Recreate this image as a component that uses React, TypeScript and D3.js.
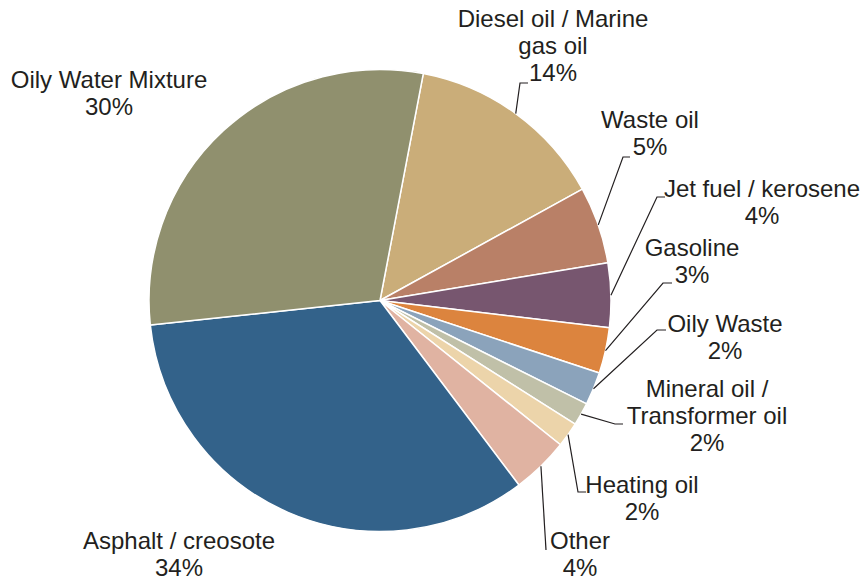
import React from 'react';
import { arc, pie } from 'd3';

// slice sizes (share of the circle, %)
const categories = [
  'Diesel oil / Marine gas oil',
  'Waste oil',
  'Jet fuel / kerosene',
  'Gasoline',
  'Oily Waste',
  'Mineral oil / Transformer oil',
  'Heating oil',
  'Other',
  'Asphalt / creosote',
  'Oily Water Mixture',
];
const values = [14.0, 5.4, 4.5, 3.2, 2.3, 1.6, 1.75, 4.0, 33.6, 29.7];
const pctLabels = ['14%', '5%', '4%', '3%', '2%', '2%', '2%', '4%', '34%', '30%'];
const colors = [
  '#caad79', '#b98067', '#77566f', '#dc843e', '#8ba3bb',
  '#c0c0a8', '#ecd4aa', '#e0b3a2', '#33628a', '#90906e',
];

// label text lines (name split as in the chart)
const nameLines = [
  ['Diesel oil / Marine', 'gas oil'],
  ['Waste oil'],
  ['Jet fuel / kerosene'],
  ['Gasoline'],
  ['Oily Waste'],
  ['Mineral oil /', 'Transformer oil'],
  ['Heating oil'],
  ['Other'],
  ['Asphalt / creosote'],
  ['Oily Water Mixture'],
];

// label layout: centre x, first baseline, leader elbow + end (null = no leader)
const labelPos: { x: number; y: number; elbow: number[][] | null }[] = [
  { x: 553, y: 27, elbow: [[520, 83], [528, 83]] },
  { x: 650, y: 128, elbow: [[623, 157], [630, 157]] },
  { x: 762, y: 197, elbow: [[657, 197], [665, 197]] },
  { x: 692, y: 256, elbow: [[663, 283], [672, 283]] },
  { x: 725, y: 332, elbow: [[657, 330], [666, 330]] },
  { x: 707, y: 397, elbow: [[615, 424], [623, 424]] },
  { x: 642, y: 493, elbow: [[578, 492], [586, 492]] },
  { x: 580, y: 549, elbow: [[546, 550]] },
  { x: 179, y: 549, elbow: null },
  { x: 109, y: 88, elbow: null },
];

const W = 863, H = 582;
const cx = 380, cy = 300.5, R = 231;
const lineH = 27;

export default function App() {
  const slices = pie<number>()
    .sort(null)
    .startAngle((10.8 * Math.PI) / 180)
    .endAngle((10.8 * Math.PI) / 180 + 2 * Math.PI)(values);
  const arcGen = arc<any>().innerRadius(0).outerRadius(R);

  return (
    <svg width={W} height={H} style={{ position: 'absolute', left: 0, top: 0 }}
      fontFamily="'Liberation Sans', Arial, sans-serif" fontSize={24}>
      <rect width={W} height={H} fill="#fff" />
      <g transform={`translate(${cx},${cy})`}>
        {slices.map((s, i) => (
          <path key={i} d={arcGen(s) as string} fill={colors[i]} stroke="#fff" strokeWidth={1.5} strokeLinejoin="round" />
        ))}
      </g>
      {slices.map((s, i) => {
        const p = labelPos[i];
        if (!p.elbow) return null;
        const mid = (s.startAngle + s.endAngle) / 2;
        const sx = cx + R * Math.sin(mid), sy = cy - R * Math.cos(mid);
        const pts = [[sx, sy], ...p.elbow].map((q) => q.join(',')).join(' ');
        return <polyline key={'l' + i} points={pts} fill="none" stroke="#231f20" strokeWidth={1.2} />;
      })}
      {categories.map((c, i) => {
        const p = labelPos[i];
        const lines = [...nameLines[i], pctLabels[i]];
        return (
          <text key={'t' + c} x={p.x} y={p.y} textAnchor="middle" fill="#231f20">
            {lines.map((ln, j) => (
              <tspan key={j} x={p.x} y={p.y + j * lineH}>{ln}</tspan>
            ))}
          </text>
        );
      })}
    </svg>
  );
}
